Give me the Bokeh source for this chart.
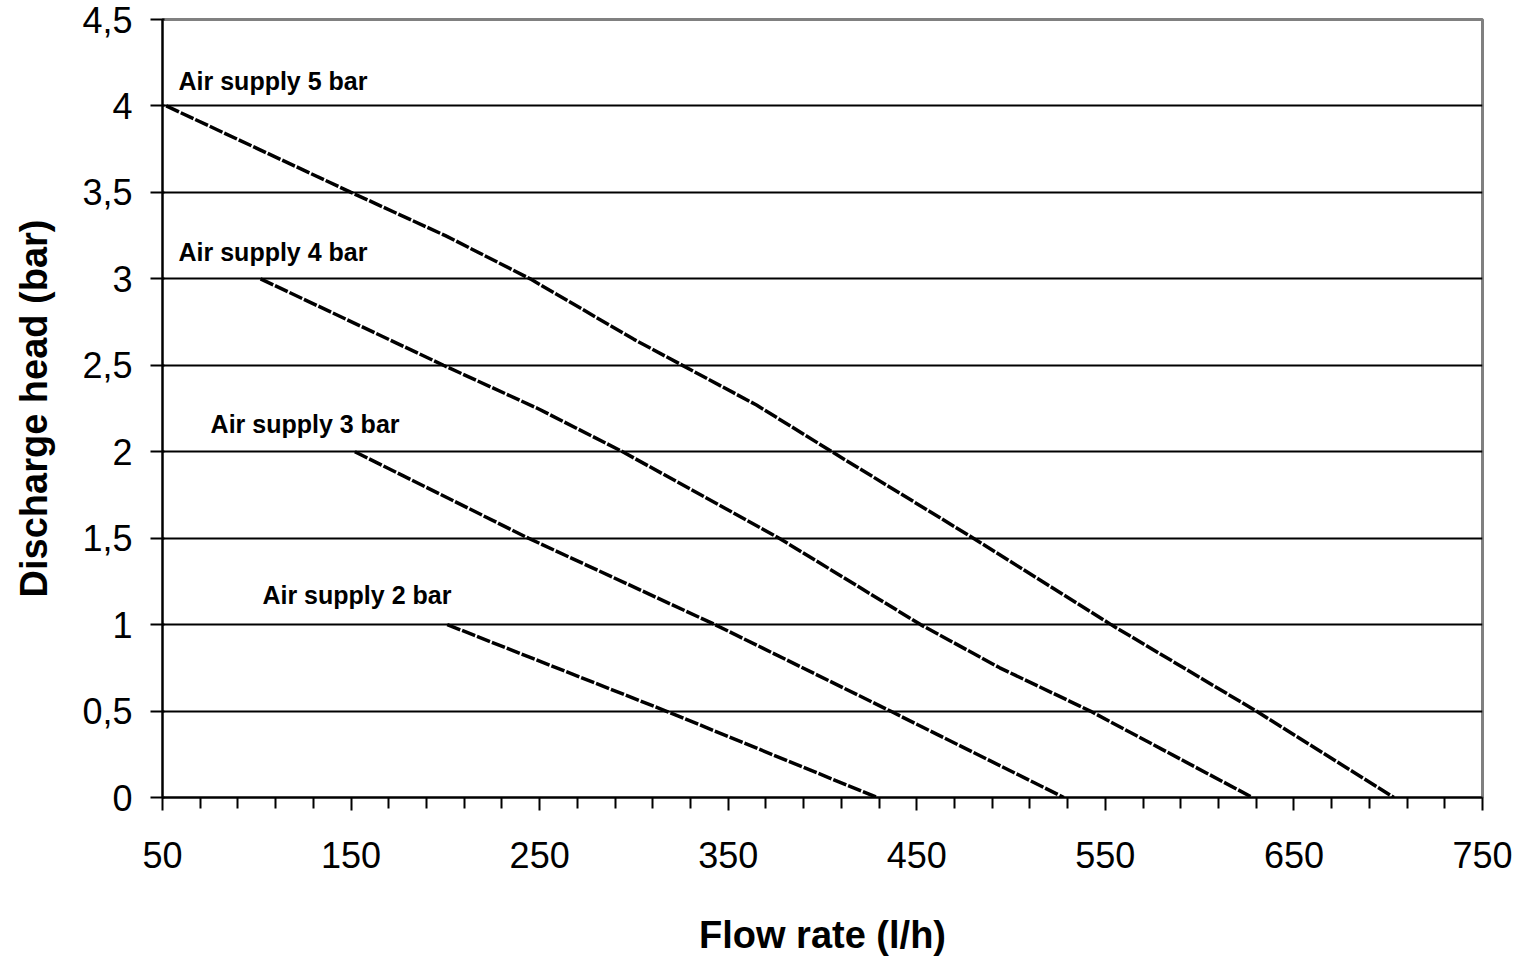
from bokeh.plotting import figure
from bokeh.models import FixedTicker, Range1d, Label
from bokeh.embed import file_html
from bokeh.resources import INLINE

# Data
x_5bar = [52, 150, 200, 245, 300, 365, 405, 480, 553, 630, 703]
y_5bar = [4.0, 3.5, 3.25, 3.0, 2.65, 2.27, 2.0, 1.5, 1.0, 0.5, 0.0]
x_4bar = [102, 199, 249, 294, 377, 452, 494, 542, 628]
y_4bar = [3.0, 2.5, 2.25, 2.0, 1.5, 1.0, 0.75, 0.5, 0.0]
x_3bar = [152, 244, 343, 436, 528]
y_3bar = [2.0, 1.5, 1.0, 0.5, 0.0]
x_2bar = [201, 317, 429]
y_2bar = [1.0, 0.5, 0.0]

series_labels = ["Air supply 5 bar", "Air supply 4 bar", "Air supply 3 bar", "Air supply 2 bar"]
label_x = [58.5, 58.5, 75.5, 103]
label_y = [4.147, 3.158, 2.163, 1.174]

x_ticks = [50, 150, 250, 350, 450, 550, 650, 750]
x_minor = [v for v in range(70, 750, 20) if v not in x_ticks]
y_ticks = [0, 0.5, 1, 1.5, 2, 2.5, 3, 3.5, 4, 4.5]
y_tick_labels = ["0", "0,5", "1", "1,5", "2", "2,5", "3", "3,5", "4", "4,5"]

FONT = "Liberation Sans"

p = figure(width=1518, height=958, output_backend="svg", toolbar_location=None,
           x_range=Range1d(50, 750), y_range=Range1d(0, 4.5),
           min_border_left=162, min_border_right=36, min_border_top=19, min_border_bottom=161)

p.outline_line_color = "#808080"
p.outline_line_width = 3
p.background_fill_color = "white"
p.border_fill_color = "white"

# grid
p.xgrid.visible = False
p.ygrid.grid_line_color = "black"
p.ygrid.grid_line_width = 1.8
p.ygrid.ticker = FixedTicker(ticks=y_ticks)

# x axis
p.xaxis.ticker = FixedTicker(ticks=x_ticks, minor_ticks=x_minor)
p.xaxis.axis_line_color = "black"
p.xaxis.axis_line_width = 2
p.xaxis.major_tick_line_width = 2
p.xaxis.minor_tick_line_width = 2
p.xaxis.major_tick_out = 13
p.xaxis.major_tick_in = 0
p.xaxis.minor_tick_out = 11
p.xaxis.minor_tick_in = 0
p.xaxis.major_label_standoff = 31
p.xaxis.major_label_text_font = FONT
p.xaxis.major_label_text_font_size = "36px"
p.xaxis.major_label_text_color = "black"
p.xaxis.axis_label = "Flow rate (l/h)"
p.xaxis.axis_label_text_font = FONT
p.xaxis.axis_label_text_font_style = "bold"
p.xaxis.axis_label_text_font_size = "38px"
p.xaxis.axis_label_text_color = "black"
p.xaxis.axis_label_standoff = 43

# y axis
p.yaxis.ticker = FixedTicker(ticks=y_ticks, minor_ticks=[])
p.yaxis.major_label_overrides = {t: s for t, s in zip(y_ticks, y_tick_labels)}
p.yaxis.axis_line_color = "black"
p.yaxis.axis_line_width = 2
p.yaxis.major_tick_line_width = 2
p.yaxis.major_tick_out = 12
p.yaxis.major_tick_in = 2
p.yaxis.major_label_standoff = 18
p.yaxis.major_label_text_font = FONT
p.yaxis.major_label_text_font_size = "36px"
p.yaxis.major_label_text_color = "black"
p.yaxis.axis_label = "Discharge head (bar)"
p.yaxis.axis_label_text_font = FONT
p.yaxis.axis_label_text_font_style = "bold"
p.yaxis.axis_label_text_font_size = "38px"
p.yaxis.axis_label_text_color = "black"
p.yaxis.axis_label_standoff = 24

# curves
for xs, ys in [(x_5bar, y_5bar), (x_4bar, y_4bar), (x_3bar, y_3bar), (x_2bar, y_2bar)]:
    p.line(xs, ys, line_color="black", line_width=3.5, line_dash="14 2")

# labels
for t, lx, ly in zip(series_labels, label_x, label_y):
    p.add_layout(Label(x=lx, y=ly, text=t, text_font=FONT, text_font_style="bold",
                       text_font_size="25px", text_align="left", text_baseline="middle",
                       text_color="black"))

open("out.html", "w").write(file_html(p, INLINE))
